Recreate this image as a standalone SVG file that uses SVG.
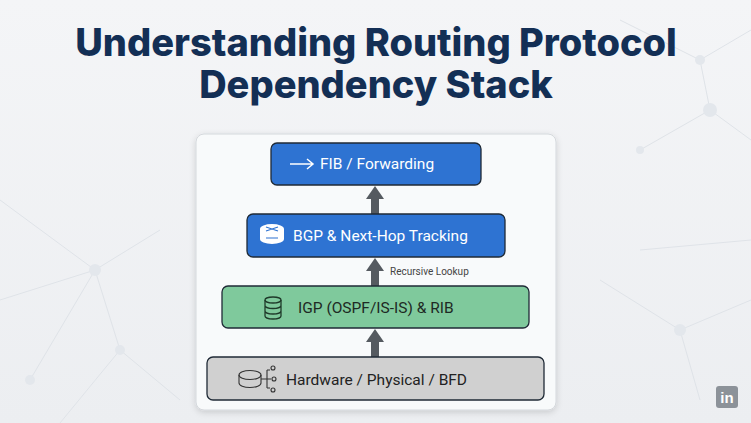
<svg xmlns="http://www.w3.org/2000/svg" width="751" height="423" viewBox="0 0 751 423">
<style>
.t{font-family:Roboto,"Liberation Sans",sans-serif;font-size:15.5px;}
.bg{stroke:#dfe3e8;stroke-width:1;fill:none}
.dot{fill:#e3e7ec}
.box{stroke:#1f2a36;stroke-width:1.3}
</style>
<defs>
<linearGradient id="g" x1="0" y1="0" x2="0" y2="1"><stop offset="0" stop-color="#f4f5f7"/><stop offset="1" stop-color="#eceef1"/></linearGradient>
<filter id="sh" x="-10%" y="-10%" width="120%" height="120%"><feDropShadow dx="0" dy="2" stdDeviation="3" flood-opacity="0.15"/></filter>
</defs>
<rect width="751" height="423" fill="url(#g)"/>
<g id="decor">
<path class="bg" d="M0 200 L95 270 L30 380 M95 270 L120 350 L60 423 M95 270 L160 230 M0 300 L95 270 M120 350 L180 400 M620 20 L700 60 L751 30 M700 60 L710 110 L751 140 M710 110 L640 150 M600 280 L680 330 L751 300 M680 330 L700 400 M640 250 L751 240"/>
<circle class="dot" cx="95" cy="270" r="6"/><circle class="dot" cx="120" cy="350" r="5"/><circle class="dot" cx="30" cy="380" r="5"/><circle class="dot" cx="710" cy="110" r="7"/><circle class="dot" cx="700" cy="60" r="5"/><circle class="dot" cx="680" cy="330" r="6"/><circle class="dot" cx="640" cy="150" r="4"/>
</g>
<g id="title" font-family="Inter,'Liberation Sans',sans-serif" font-weight="800" font-size="38" fill="#132f55" text-anchor="middle">
<text x="376" y="56">Understanding Routing Protocol</text>
<text x="376" y="98">Dependency Stack</text>
</g>
<rect x="196" y="134" width="360" height="276" rx="8" fill="#f8fafb" stroke="#d4d8dc" filter="url(#sh)"/>
<g id="connectors" fill="#555a60">
<rect x="371" y="198" width="8" height="16"/><path d="M366 199 L375 186 L384 199 Z"/>
<rect x="371" y="270" width="8" height="16"/><path d="M366 271 L375 258 L384 271 Z"/>
<rect x="371" y="341" width="8" height="16"/><path d="M366 342 L375 329 L384 342 Z"/>
<text x="390" y="275" font-family="Roboto,'Liberation Sans',sans-serif" font-size="10" fill="#444">Recursive Lookup</text>
</g>
<g id="fib">
<rect class="box" x="271" y="143" width="210" height="42" rx="6" fill="#2e73d2"/>
<path d="M290 164 H313 M307 159 L313 164 L307 169" stroke="#fff" stroke-width="1.5" fill="none"/>
<text class="t" x="320" y="169" fill="#fff">FIB / Forwarding</text>
</g>
<g id="bgp">
<rect class="box" x="247" y="214" width="258" height="43" rx="6" fill="#2e73d2"/>
<g fill="#fff"><ellipse cx="272" cy="229" rx="12" ry="5"/><rect x="260" y="229" width="24" height="10"/><ellipse cx="272" cy="239" rx="12" ry="5"/></g>
<path d="M266 227 L278 231 M278 227 L266 231 M266 238 H278" stroke="#2e73d2" stroke-width="1.2"/>
<text class="t" x="293" y="241" fill="#fff">BGP &amp; Next-Hop Tracking</text>
</g>
<g id="igp">
<rect class="box" x="222" y="286" width="307" height="42" rx="6" fill="#7fc99c"/>
<g fill="none" stroke="#1f3a2a" stroke-width="1.3"><ellipse cx="273" cy="300" rx="8" ry="3"/><path d="M265 300 V316 A8 3 0 0 0 281 316 V300 M265 305.5 A8 3 0 0 0 281 305.5 M265 311 A8 3 0 0 0 281 311"/></g>
<text class="t" x="298" y="313" fill="#1e2a24">IGP (OSPF/IS-IS) &amp; RIB</text>
</g>
<g id="hw">
<rect class="box" x="207" y="357" width="337" height="43" rx="6" fill="#d0d0d0"/>
<g fill="none" stroke="#333" stroke-width="1.1"><ellipse cx="250" cy="375" rx="11" ry="4.5"/><path d="M239 375 V383 A11 4.5 0 0 0 261 383 V375 M261 379 H267 M267 370 V388 M267 370 H270 M267 379 H271 M267 388 H270"/><circle cx="273" cy="368" r="2"/><circle cx="274" cy="379" r="2"/><circle cx="273" cy="390" r="2"/></g>
<text class="t" x="286" y="385" fill="#222">Hardware / Physical / BFD</text>
</g>
<g id="logo"><rect x="716" y="386" width="22" height="22" rx="3" fill="#8c9299"/><text x="727" y="403" font-family="'Liberation Sans',sans-serif" font-weight="bold" font-size="15" fill="#fff" text-anchor="middle">in</text></g>
</svg>
